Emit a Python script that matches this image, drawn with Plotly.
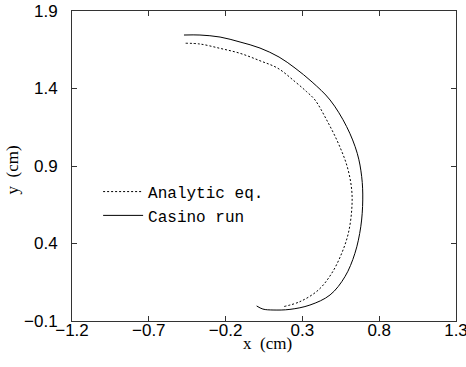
import plotly.graph_objects as go

# Casino run (solid)
casino_x = [-0.471, -0.367, -0.236, -0.106, 0.024, 0.148, 0.252, 0.363, 0.480, 0.588,
            0.657, 0.686, 0.693, 0.680, 0.642, 0.577, 0.480, 0.349, 0.219, 0.109,
            0.043, 0.002]
casino_y = [1.745, 1.745, 1.732, 1.700, 1.661, 1.603, 1.532, 1.442, 1.326, 1.154,
            0.982, 0.831, 0.681, 0.508, 0.337, 0.186, 0.068, 0.003, -0.025, -0.029,
            -0.023, -0.003]

# Analytic eq. (dotted)
analytic_x = [-0.460, -0.367, -0.236, -0.106, 0.024, 0.141, 0.252, 0.328, 0.382, 0.458,
              0.534, 0.592, 0.621, 0.621, 0.599, 0.556, 0.491, 0.404, 0.284, 0.174]
analytic_y = [1.692, 1.687, 1.659, 1.627, 1.579, 1.530, 1.444, 1.379, 1.326, 1.197,
              1.046, 0.895, 0.745, 0.616, 0.466, 0.337, 0.208, 0.100, 0.025, -0.008]

x_ticks = [-1.2, -0.7, -0.2, 0.3, 0.8, 1.3]
y_ticks = [-0.1, 0.4, 0.9, 1.4, 1.9]
x_tick_labels = ["\u22121.2", "\u22120.7", "\u22120.2", "0.3", "0.8", "1.3"]
y_tick_labels = ["\u22120.1", "0.4", "0.9", "1.4", "1.9"]

fig = go.Figure()
fig.add_trace(go.Scatter(x=analytic_x, y=analytic_y, mode="lines", name="Analytic eq.",
                         line=dict(color="black", width=1, dash="2px,2px", shape="spline")))
fig.add_trace(go.Scatter(x=casino_x, y=casino_y, mode="lines", name="Casino run",
                         line=dict(color="black", width=1, shape="spline")))

axis_common = dict(showgrid=False, zeroline=False, showline=True, linecolor="#333",
                   linewidth=1, mirror="ticks", ticks="inside", ticklen=5, tickwidth=1,
                   tickcolor="#333", automargin=False, ticklabeloverflow="allow",
                   tickfont=dict(family="Liberation Sans", size=17, color="black"))

fig.update_xaxes(range=[-1.2, 1.3], tickvals=x_ticks, ticktext=x_tick_labels,
                 ticklabelstandoff=-6, **axis_common)
fig.update_yaxes(range=[-0.1, 1.9], tickvals=y_ticks, ticktext=y_tick_labels,
                 ticklabelstandoff=10, **axis_common)

title_font = dict(family="Liberation Serif", size=17, color="black")
fig.add_annotation(text="x\u00a0\u00a0(cm)", xref="paper", yref="paper", x=0.51, y=-0.071,
                   xanchor="center", yanchor="middle", showarrow=False, font=title_font)
fig.add_annotation(text="y\u00a0\u00a0(cm)", xref="paper", yref="paper", x=-0.155, y=0.487,
                   xanchor="center", yanchor="middle", showarrow=False, textangle=-90,
                   font=title_font)

fig.update_layout(
    width=466, height=367,
    margin=dict(l=72, r=10, t=11, b=46, autoexpand=False),
    plot_bgcolor="white", paper_bgcolor="white",
    showlegend=True,
    legend=dict(x=0.068, y=0.472, xanchor="left", yanchor="top",
                bgcolor="rgba(0,0,0,0)",
                font=dict(family="Liberation Mono", size=16, color="black"),
                itemwidth=40, tracegroupgap=0),
)

fig.write_html("out.html", config={"displayModeBar": False},
               post_script="document.body.style.margin='0';")
